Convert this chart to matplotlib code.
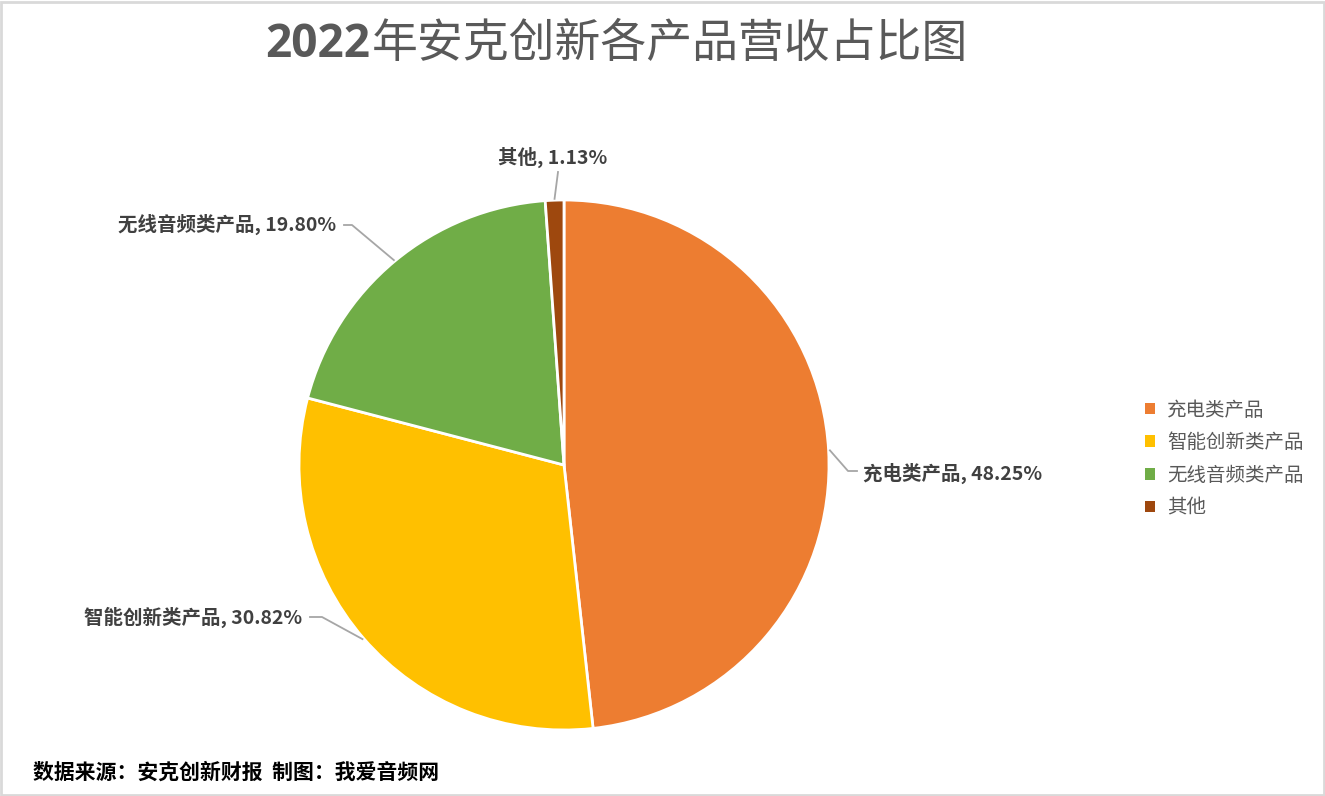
import numpy as np
import matplotlib
matplotlib.use("Agg")
import matplotlib.pyplot as plt
from matplotlib.patches import Rectangle
from matplotlib.lines import Line2D

plt.rcParams['font.family'] = ['Noto Sans CJK SC', 'DejaVu Sans']

title_num = "2022"
title_rest = "年安克创新各产品营收占比图"
categories = ["充电类产品", "智能创新类产品", "无线音频类产品", "其他"]
values = [48.25, 30.82, 19.80, 1.13]
colors = ["#ED7D31", "#FFC000", "#70AD47", "#9E480E"]
footnote = "数据来源：安克创新财报  制图：我爱音频网"

W, H = 1325, 796
fig = plt.figure(figsize=(W / 100, H / 100), dpi=100)
fig.patch.set_facecolor("white")

# pie axes: center (564,465) px, radius 265 px
cx, cy, R = 564, 465, 265
ax = fig.add_axes([(cx - R) / W, (H - cy - R) / H, 2 * R / W, 2 * R / H])
wedges, _ = ax.pie(values, colors=colors, startangle=90, counterclock=False,
                   wedgeprops=dict(edgecolor="white", linewidth=2))
ax.set_xlim(-1, 1)
ax.set_ylim(-1, 1)
ax.set_aspect("equal")
ax.set_clip_on(False)


def p2d(px, py):
    return ((px - cx) / R, (cy - py) / R)


# label layout (pixel positions): elbow point, text anchor, alignment
label_layout = [
    ((848, 471), (863, 473), "left"),
    ((322, 617), (302, 617), "right"),
    ((352, 225), (336, 224), "right"),
    ((558, 172), (553, 157), "center"),
]

total = sum(values)
cum = 0
for v, cat, (elbow, txt, ha) in zip(values, categories, label_layout):
    mid = np.deg2rad(90 - (cum + v / 2) / total * 360)
    cum += v
    ex, ey = np.cos(mid) * 1.005, np.sin(mid) * 1.005
    bx, by = p2d(*elbow)
    tx, ty = p2d(*txt)
    if ha == "center":
        xs, ys = [ex, bx], [ey, by]
    else:
        endx = tx - 6 / R if ha == "left" else tx + 8 / R
        xs, ys = [ex, bx, endx], [ey, by, by]
    ax.add_line(Line2D(xs, ys, color="#A6A6A6", lw=1.3, clip_on=False))
    ax.text(tx, ty, f"{cat}, {v:.2f}%", ha=ha, va="center", fontsize=14,
            fontweight="bold", color="#404040", clip_on=False)

# title
t1 = fig.text(265 / W, 1 - 57 / H, title_num, fontsize=33, fontweight="bold",
              color="#595959", ha="left", va="baseline",
              family=["Open Sans", "DejaVu Sans"])
ax.annotate(title_rest, xy=(1, 0), xycoords=t1, xytext=(1, 0),
            textcoords="offset points", fontsize=33, color="#595959",
            ha="left", va="bottom", annotation_clip=False)

# legend
handles = [Rectangle((0, 0), 1, 1, facecolor=c, edgecolor="none") for c in colors]
fig.legend(handles, categories, loc="upper left",
           bbox_to_anchor=(1127 / W, 1 - 382 / H), frameon=False,
           fontsize=14, labelcolor="#595959", handlelength=0.55, handleheight=0.55,
           handletextpad=0.6, labelspacing=0.6)

# footnote
fig.text(33 / W, 1 - 772 / H, footnote, fontsize=15, fontweight="bold",
         color="black", ha="left", va="center")

# border
fig.add_artist(Rectangle((0.001, 0.001), 0.998, 0.997, transform=fig.transFigure,
                         fill=False, edgecolor="#D9D9D9", linewidth=2))

fig.savefig("out.png", dpi=100, facecolor="white")
